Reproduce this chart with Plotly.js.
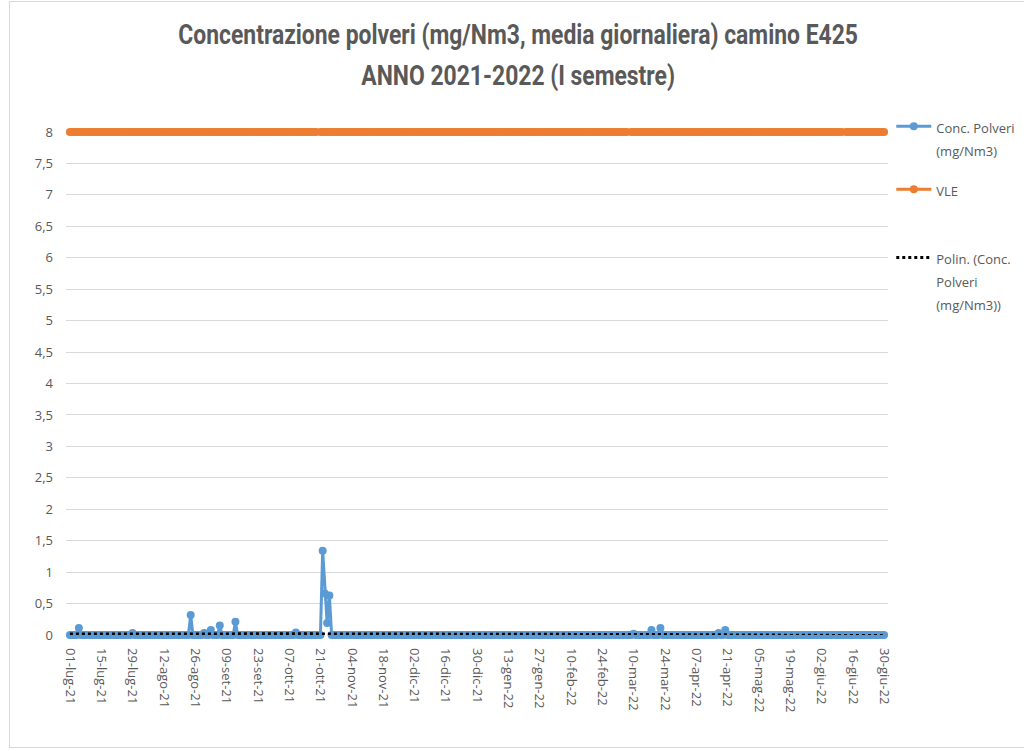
<!DOCTYPE html>
<html>
<head>
<meta charset="utf-8">
<script src="https://cdn.plot.ly/plotly-3.0.1.min.js"></script>
<style>
html,body{margin:0;padding:0;background:#fff;overflow:hidden;}
#frame{position:absolute;left:9px;top:1px;width:1040px;height:747px;border:1px solid #d9d9d9;box-sizing:border-box;}
#chart{position:absolute;left:0;top:0;width:1024px;height:751px;}
</style>
</head>
<body>
<div id="frame"></div>
<div id="chart"></div>
<script>
// Daily values, 01-lug-21 .. 30-giu-22 (mg/Nm3)
const lug21 = [0,0,0,0,0.11,0,0,0,0,0, 0,0,0,0,0,0,0,0,0,0, 0,0,0,0,0,0,0,0,0.03,0, 0];
const ago21 = [0,0,0,0,0,0,0,0,0,0, 0,0,0,0,0,0,0,0,0,0, 0,0,0,0.32,0,0,0,0,0,0.03, 0];
const set21 = [0,0.08,0,0,0,0.15,0,0,0,0, 0,0,0.21,0,0,0,0,0,0,0, 0,0,0,0,0,0,0,0,0,0];
const ott21 = [0,0,0,0,0,0,0,0,0,0.04, 0,0,0,0,0,0,0,0,0,0, 0,1.34,0.66,0.19,0.63,0,0,0,0,0, 0];
const nov21 = [0,0,0,0,0,0,0,0,0,0, 0,0,0,0,0,0,0,0,0,0, 0,0,0,0,0,0,0,0,0,0];
const dic21 = [0,0,0,0,0,0,0,0,0,0, 0,0,0,0,0,0,0,0,0,0, 0,0,0,0,0,0,0,0,0,0, 0];
const gen22 = [0,0,0,0,0,0,0,0,0,0, 0,0,0,0,0,0,0,0,0,0, 0,0,0,0,0,0,0,0,0,0, 0];
const feb22 = [0,0,0,0,0,0,0,0,0,0, 0,0,0,0,0,0,0,0,0,0, 0,0,0,0,0,0,0,0];
const mar22 = [0,0,0,0,0,0,0,0,0,0.02, 0,0,0,0,0,0,0,0.08,0,0, 0,0.11,0,0,0,0,0,0,0,0, 0];
const apr22 = [0,0,0,0,0,0,0,0,0,0, 0,0,0,0,0,0,0.03,0,0,0.08, 0,0,0,0,0,0,0,0,0,0];
const mag22 = [0,0,0,0,0,0,0,0,0,0, 0,0,0,0,0,0,0,0,0,0, 0,0,0,0,0,0,0,0,0,0, 0];
const giu22 = [0,0,0,0,0,0,0,0,0,0, 0,0,0,0,0,0,0,0,0,0, 0,0,0,0,0,0,0,0,0,0];

const startDate = '2021-07-01';
const vleLimit = 8;
const vleMissingDays = [111, 250, 346];

const tickDates = ['2021-07-01','2021-07-15','2021-07-29','2021-08-12','2021-08-26','2021-09-09','2021-09-23','2021-10-07','2021-10-21','2021-11-04','2021-11-18','2021-12-02','2021-12-16','2021-12-30','2022-01-13','2022-01-27','2022-02-10','2022-02-24','2022-03-10','2022-03-24','2022-04-07','2022-04-21','2022-05-05','2022-05-19','2022-06-02','2022-06-16','2022-06-30'];
const tickLabels = ['01-lug-21','15-lug-21','29-lug-21','12-ago-21','26-ago-21','09-set-21','23-set-21','07-ott-21','21-ott-21','04-nov-21','18-nov-21','02-dic-21','16-dic-21','30-dic-21','13-gen-22','27-gen-22','10-feb-22','24-feb-22','10-mar-22','24-mar-22','07-apr-22','21-apr-22','05-mag-22','19-mag-22','02-giu-22','16-giu-22','30-giu-22'];

const titleLines = ['Concentrazione polveri (mg/Nm3, media giornaliera) camino E425', 'ANNO 2021-2022 (I semestre)'];
const legendNames = [['Conc. Polveri','(mg/Nm3)'], ['VLE'], ['Polin. (Conc.','Polveri','(mg/Nm3))']];

const polveri = [].concat(lug21,ago21,set21,ott21,nov21,dic21,gen22,feb22,mar22,apr22,mag22,giu22);

const dates = [];
const d0 = new Date(startDate + 'T00:00:00Z');
for (let i = 0; i < polveri.length; i++) {
  const d = new Date(d0.getTime() + i*86400000);
  dates.push(d.toISOString().slice(0,10));
}
const vle = polveri.map((v,i) => vleMissingDays.includes(i) ? null : vleLimit);

// Polynomial (order 2) least-squares trendline, as Excel "Polin."
function polyfit2(ys){
  let S=[0,0,0,0,0], T=[0,0,0];
  ys.forEach((y,i)=>{ const x=i+1; let p=1; for(let k=0;k<5;k++){S[k]+=p; if(k<3)T[k]+=p*y; p*=x;} });
  const A=[[S[0],S[1],S[2],T[0]],[S[1],S[2],S[3],T[1]],[S[2],S[3],S[4],T[2]]];
  for(let c=0;c<3;c++){ for(let r=c+1;r<3;r++){ const f=A[r][c]/A[c][c]; for(let k=c;k<4;k++)A[r][k]-=f*A[c][k]; } }
  const co=[0,0,0];
  for(let r=2;r>=0;r--){ let s=A[r][3]; for(let k=r+1;k<3;k++)s-=A[r][k]*co[k]; co[r]=s/A[r][r]; }
  return ys.map((_,i)=>{const x=i+1; return co[0]+co[1]*x+co[2]*x*x;});
}
const trend = polyfit2(polveri);

const txt = '#595959';
const sansFont = 'Open Sans, Liberation Sans, sans-serif';
const legName = lines => lines.map(l => '<span style="font-size:13px">' + l + '</span>').join('<br>');

const traces = [
  {x:dates, y:polveri, type:'scatter', mode:'lines+markers', name:legName(legendNames[0]),
   line:{color:'#5b9bd5', width:3}, marker:{color:'#5b9bd5', size:8}, cliponaxis:false, legend:'legend'},
  {x:dates, y:vle, type:'scatter', mode:'lines+markers', name:legName(legendNames[1]),
   line:{color:'#ed7d31', width:3}, marker:{color:'#ed7d31', size:8}, cliponaxis:false, legend:'legend2'},
  {x:dates, y:trend, type:'scatter', mode:'lines', name:legName(legendNames[2]),
   line:{color:'#000000', width:3, dash:'dot'}, cliponaxis:false, legend:'legend3'}
];

const legBase = {x:1.004, xanchor:'left', yanchor:'top', font:{family:sansFont, size:17.7, color:txt},
  valign:'top', bgcolor:'rgba(0,0,0,0)', itemwidth:35};

const layout = {
  width:1024, height:751,
  paper_bgcolor:'rgba(0,0,0,0)', plot_bgcolor:'rgba(0,0,0,0)',
  margin:{l:66, r:136, t:132, b:116, autoexpand:false},
  separators:',.',
  title:{text:titleLines.map(l => '<span style="font-size:27px">' + l + '</span>').join('<br>'),
    font:{family:'Roboto, Open Sans, sans-serif', size:31, color:txt, weight:'bold'},
    x:0.506, xanchor:'center', xref:'container', y:0.941, yanchor:'middle', yref:'container'},
  xaxis:{type:'date', range:['2021-06-29 06:00','2022-07-01 18:00'], tickmode:'array', tickvals:tickDates, ticktext:tickLabels,
    tickangle:90, tickfont:{family:sansFont, size:13, color:txt}, ticklabelstandoff:12,
    showgrid:false, zeroline:false, showline:false, ticks:'', ticklen:0},
  yaxis:{range:[0,8], dtick:0.5, tick0:0, showgrid:true, gridcolor:'#d9d9d9', gridwidth:1, zeroline:false, showline:false,
    tickfont:{family:sansFont, size:13, color:txt}, ticks:'', ticklabelstandoff:12},
  showlegend:true,
  legend:Object.assign({}, legBase, {y:1.047}),
  legend2:Object.assign({}, legBase, {y:0.922}),
  legend3:Object.assign({}, legBase, {y:0.7865})
};

Plotly.newPlot('chart', traces, layout, {displayModeBar:false, staticPlot:true}).then(gd => {
  // condense the title horizontally to the reference's width (Calibri-like narrow face)
  const t = gd.querySelector('.gtitle');
  if (t) {
    const bb = t.getBBox();
    const targetW = 680;
    const s = Math.min(1, targetW / bb.width);
    const cx = bb.x + bb.width / 2;
    t.setAttribute('transform', 'translate(' + cx + ',0) scale(' + s + ',1) translate(' + (-cx) + ',0)');
  }
});
</script>
</body>
</html>
